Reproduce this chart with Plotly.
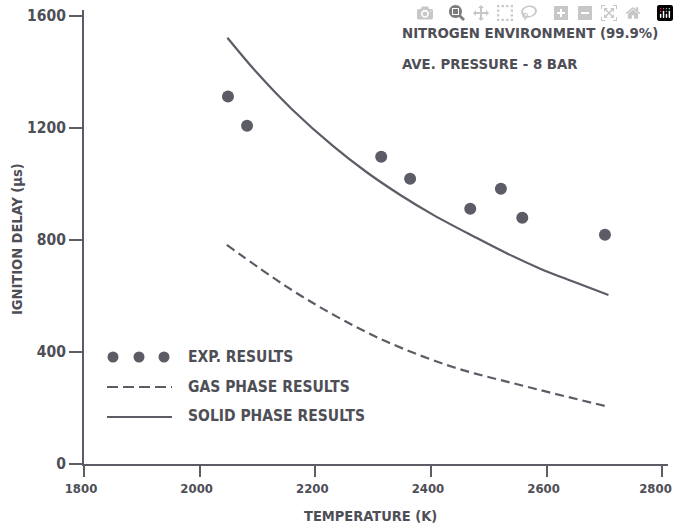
import plotly.graph_objects as go

# ---- data ----
exp_T = [2049, 2082, 2314, 2364, 2468, 2521, 2558, 2701]
exp_delay = [1311, 1207, 1096, 1018, 911, 982, 879, 818]

solid_T = [2048, 2100, 2160, 2231, 2289, 2347, 2404, 2474, 2531, 2589, 2647, 2707]
solid_delay = [1521, 1394, 1265, 1134, 1041, 960, 889, 812, 752, 697, 650, 603]

gas_T = [2047, 2151, 2238, 2324, 2438, 2554, 2707]
gas_delay = [782, 632, 525, 436, 346, 282, 204]

x_ticks = [1800, 2000, 2200, 2400, 2600, 2800]
y_ticks = [0, 400, 800, 1200, 1600]

INK = "#5c5c66"
TXT = "#4e4e56"
FONT = "DejaVu Sans Condensed, DejaVu Sans"
NBSP = "\u00a0"

fig = go.Figure()
fig.add_trace(go.Scatter(x=solid_T, y=solid_delay, mode="lines",
                         line=dict(color=INK, width=2.2, shape="spline", smoothing=1.0),
                         showlegend=False))
fig.add_trace(go.Scatter(x=gas_T, y=gas_delay, mode="lines",
                         line=dict(color=INK, width=2.2, shape="spline", dash="9px,5px"),
                         showlegend=False))
fig.add_trace(go.Scatter(x=exp_T, y=exp_delay, mode="markers",
                         marker=dict(color=INK, size=12),
                         showlegend=False))

# ---- layout geometry (page body margin removed by post_script) ----
W, H = 679, 524
L, R, T, B = 84, 11, 10, 60
pw, ph = W - L - R, H - T - B

def px(xp):
    return (xp - L) / pw

def py(yp):
    return (H - B - yp) / ph

shapes = []
# legend samples (decorative)
for cx in (113, 139, 164):
    shapes.append(dict(type="circle", xref="paper", yref="paper",
                       xsizemode="pixel", ysizemode="pixel",
                       xanchor=px(cx), yanchor=py(357),
                       x0=-5.5, x1=5.5, y0=-5.5, y1=5.5,
                       fillcolor=INK, line=dict(width=0)))
shapes.append(dict(type="line", xref="paper", yref="paper",
                   x0=px(107), x1=px(172), y0=py(387), y1=py(387),
                   line=dict(color=INK, width=2, dash="11px,5px")))
shapes.append(dict(type="line", xref="paper", yref="paper",
                   x0=px(107), x1=px(172), y0=py(417), y1=py(417),
                   line=dict(color=INK, width=2)))

annotations = []
def note(text, xp, yp, anchor="left", angle=0, size=14.5):
    annotations.append(dict(text="<b>%s</b>" % text, xref="paper", yref="paper",
                            x=px(xp), y=py(yp), xanchor=anchor, yanchor="middle",
                            showarrow=False, textangle=angle,
                            font=dict(family=FONT, size=size, color=TXT)))

note("EXP. RESULTS", 186, 357, size=15.5)
note("GAS PHASE RESULTS", 186, 387, size=15.5)
note("SOLID PHASE RESULTS", 186, 416, size=15.5)
note("NITROGEN ENVIRONMENT (99.9%)", 400, 33, size=14.8)
note("AVE. PRESSURE - 8 BAR", 400, 63, size=14.8)
note("TEMPERATURE (K)", 370, 516, anchor="center")
note("IGNITION DELAY (µs)", 17, 239, anchor="center", angle=-90)

x_labels = ["<b>%d</b>" % v for v in x_ticks]
x_labels[-1] = x_labels[-1] + NBSP * 2   # keep the last label inside the page edge

fig.update_layout(
    width=W, height=H,
    margin=dict(l=L, r=R, t=T, b=B, autoexpand=False),
    paper_bgcolor="white", plot_bgcolor="white",
    font=dict(family=FONT, size=14, color=TXT),
    shapes=shapes, annotations=annotations,
    xaxis=dict(range=[1800, 2810], tickvals=x_ticks, ticktext=x_labels,
               automargin=False,
               showgrid=False, zeroline=False, showline=True, linecolor=INK, linewidth=2,
               ticks="outside", ticklen=11, tickwidth=2, tickcolor=INK,
               ticklabeloverflow="allow", ticklabelshift=-3,
               tickfont=dict(family=FONT, size=13, color=TXT)),
    yaxis=dict(range=[0, 1620], tickvals=y_ticks,
               ticktext=["<b>%d</b>" % v for v in y_ticks],
               automargin=False,
               showgrid=False, zeroline=False, showline=True, linecolor=INK, linewidth=2,
               ticks="outside", ticklen=13, tickwidth=2, tickcolor=INK,
               ticklabeloverflow="allow",
               tickfont=dict(family=FONT, size=15.5, color=TXT)),
)

fig.write_html(
    "out.html",
    post_script=("document.body.style.margin='0';"
                 "document.body.style.overflow='hidden';"
                 "document.documentElement.style.overflow='hidden';"),
)
